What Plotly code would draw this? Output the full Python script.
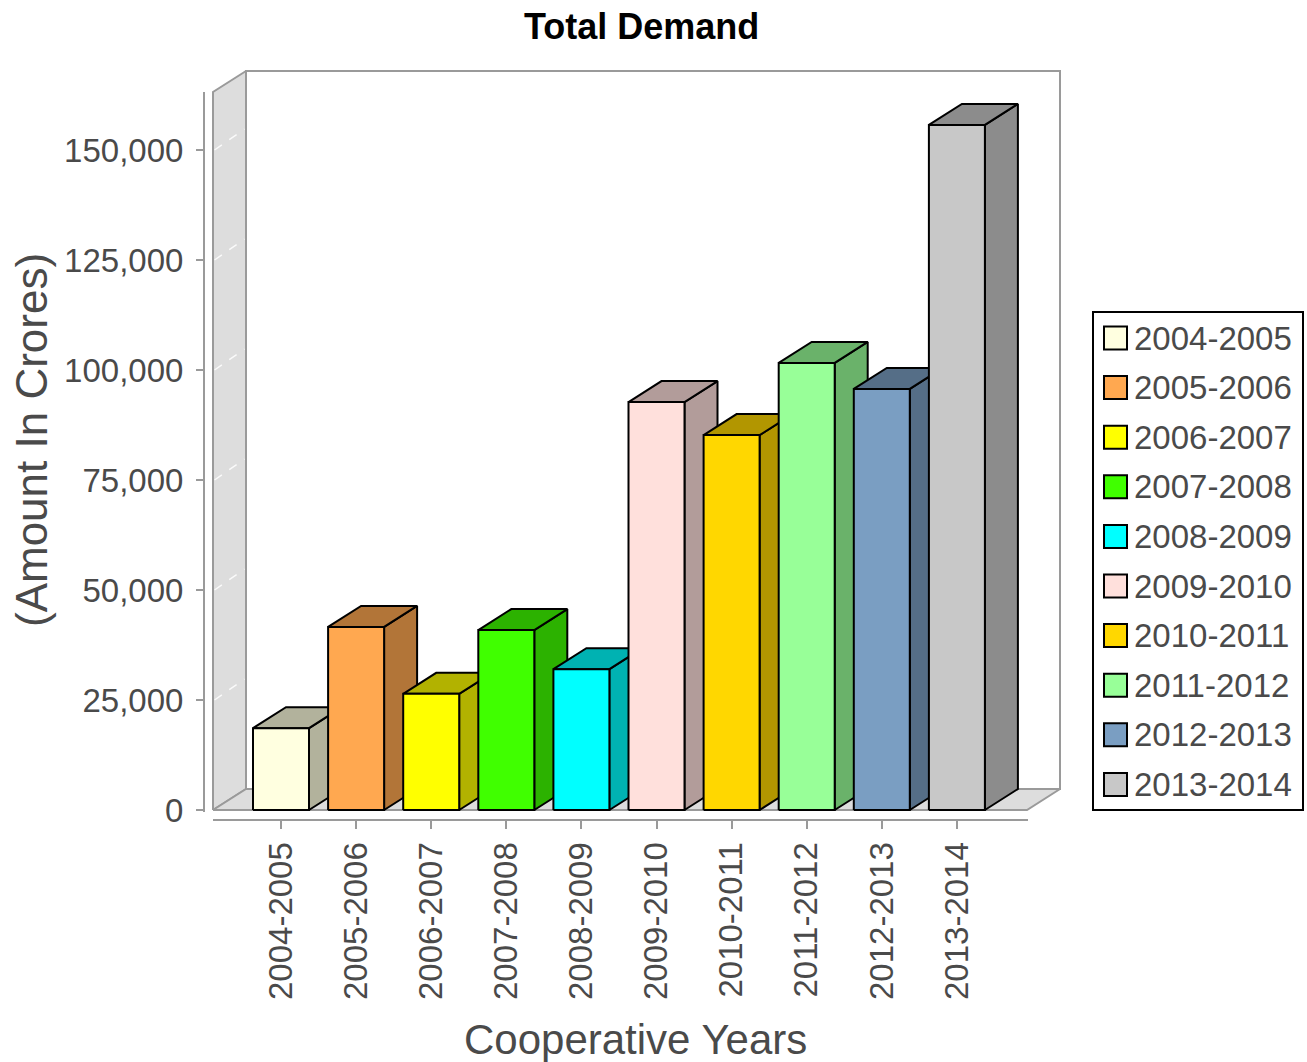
import plotly.graph_objects as go

# ---------------- data ----------------
categories = ["2004-2005", "2005-2006", "2006-2007", "2007-2008", "2008-2009",
              "2009-2010", "2010-2011", "2011-2012", "2012-2013", "2013-2014"]
values = [18600, 41600, 26400, 40900, 32000, 92700, 85200, 101600, 95700, 155700]
front_colors = ["#FFFFE0", "#FFA850", "#FFFF00", "#40FF00", "#00FFFF",
                "#FFE0DC", "#FFD700", "#98FF98", "#7A9EC2", "#C8C8C8"]
y_tick_vals = [0, 25000, 50000, 75000, 100000, 125000, 150000]

title_text = "Total Demand"
x_title = "Cooperative Years"
y_title = "(Amount In Crores)"

# ---------------- geometry / style ----------------
W, H = 1307, 1062
FONT = "Liberation Sans"
CAT0_PX = 281.0      # pixel x of first category centre
STEP_PX = 75.1       # pixel distance between categories
BASE_PX = 810.0      # pixel y of value 0 (front)
PX_PER_UNIT = 0.0044 # pixels per value unit
DX_PX, DY_PX = 33.0, 21.0   # 3D depth offset
BAR_W = 56.0 / STEP_PX
BOX_L_PX, BOX_R_PX, BOX_T_PX = 213.0, 1060.0, 71.0
DOM_X_PX = (200.0, 1075.0)
DOM_Y_PX = (60.0, 818.0)   # top, bottom


def pxx(p):
    return p / W


def pxy(p):
    return 1 - p / H


def darker(hx, f=0.7):
    hx = hx.lstrip("#")
    r, g, b = (int(hx[i:i + 2], 16) for i in (0, 2, 4))
    return "rgb(%d,%d,%d)" % (int(r * f), int(g * f), int(b * f))


def px_to_x(p):
    return (p - CAT0_PX) / STEP_PX


def px_to_y(p):
    return (BASE_PX - p) / PX_PER_UNIT


dx = DX_PX / STEP_PX
dy = DY_PX / PX_PER_UNIT
xL = px_to_x(BOX_L_PX)
xR = px_to_x(BOX_R_PX) - dx
yT = px_to_y(BOX_T_PX) - dy

fig = go.Figure()


def poly(xs, ys, fill, line_color, lw):
    fig.add_trace(go.Scatter(
        x=list(xs) + [xs[0]], y=list(ys) + [ys[0]], mode="lines",
        fill="toself", fillcolor=fill,
        line=dict(color=line_color, width=lw),
        hoverinfo="skip", showlegend=False))


BOX_LINE = "#9a9a9a"
WALL = "#dddddd"
# back wall
poly([xL + dx, xR + dx, xR + dx, xL + dx], [dy, dy, yT + dy, yT + dy], "white", BOX_LINE, 2)
# left wall
poly([xL, xL + dx, xL + dx, xL], [0, dy, yT + dy, yT], WALL, BOX_LINE, 2)
# floor
poly([xL, xR, xR + dx, xL + dx], [0, 0, dy, dy], WALL, BOX_LINE, 2)

# faint gridlines on the left wall
for tv in y_tick_vals[1:]:
    fig.add_trace(go.Scatter(
        x=[xL + 0.02, xL + dx - 0.02], y=[tv, tv + dy], mode="lines",
        line=dict(color="rgba(255,255,255,0.85)", width=1.5, dash="dash"),
        hoverinfo="skip", showlegend=False))

# bars
for i, (v, c) in enumerate(zip(values, front_colors)):
    x0, x1 = i - BAR_W / 2, i + BAR_W / 2
    dc = darker(c)
    # side face
    poly([x1, x1 + dx, x1 + dx, x1], [0, dy, v + dy, v], dc, "black", 2)
    # top face
    poly([x0, x0 + dx, x1 + dx, x1], [v, v + dy, v + dy, v], dc, "black", 2)
    # front face
    poly([x0, x1, x1, x0], [0, 0, v, v], c, "black", 2)

TICK_FONT = dict(family=FONT, size=33, color="#4a4a4a")

fig.update_layout(
    width=W, height=H,
    margin=dict(l=0, r=0, t=0, b=0, pad=0, autoexpand=False),
    paper_bgcolor="white", plot_bgcolor="white",
    showlegend=False,
    xaxis=dict(
        domain=[pxx(DOM_X_PX[0]), pxx(DOM_X_PX[1])],
        range=[px_to_x(DOM_X_PX[0]), px_to_x(DOM_X_PX[1])],
        tickmode="array", tickvals=list(range(len(categories))), ticktext=categories,
        tickangle=-90, ticks="outside", ticklen=8, tickwidth=2, tickcolor="#9a9a9a",
        tickfont=TICK_FONT, showgrid=False, zeroline=False, showline=False,
        anchor="free", position=pxy(820.0), fixedrange=True, automargin=False,
    ),
    yaxis=dict(
        domain=[pxy(DOM_Y_PX[1]), pxy(DOM_Y_PX[0])],
        range=[px_to_y(DOM_Y_PX[1]), px_to_y(DOM_Y_PX[0])],
        tickmode="array", tickvals=y_tick_vals, tickformat=",",
        ticks="outside", ticklen=8, tickwidth=2, tickcolor="#9a9a9a",
        ticklabelstandoff=6,
        tickfont=TICK_FONT, showgrid=False, zeroline=False, showline=False,
        anchor="free", position=pxx(204.0), fixedrange=True, automargin=False,
    ),
)

shapes = [
    # x axis line
    dict(type="line", xref="paper", yref="paper", x0=pxx(213.0), x1=pxx(1028.0),
         y0=pxy(820.0), y1=pxy(820.0), line=dict(color="#9a9a9a", width=2)),
    # y axis line
    dict(type="line", xref="paper", yref="paper", x0=pxx(204.0), x1=pxx(204.0),
         y0=pxy(92.0), y1=pxy(812.0), line=dict(color="#9a9a9a", width=2)),
    # legend frame
    dict(type="rect", xref="paper", yref="paper", x0=pxx(1093.0), x1=pxx(1303.0),
         y0=pxy(810.0), y1=pxy(312.0), line=dict(color="black", width=2),
         fillcolor="white"),
]
annotations = [
    dict(text="<b>" + title_text + "</b>", x=pxx(641.0), y=pxy(26.0), xref="paper", yref="paper",
         showarrow=False, xanchor="center", yanchor="middle",
         font=dict(family=FONT, size=36, color="black")),
    dict(text=x_title, x=pxx(635.0), y=pxy(1039.0), xref="paper", yref="paper",
         showarrow=False, xanchor="center", yanchor="middle",
         font=dict(family=FONT, size=42, color="#4a4a4a")),
    dict(text=y_title, x=pxx(31.0), y=pxy(440.0), xref="paper", yref="paper",
         showarrow=False, xanchor="center", yanchor="middle", textangle=-90,
         font=dict(family=FONT, size=44, color="#4a4a4a")),
]

ROW0, ROW_STEP = 338.0, 49.6
for i, (cat, c) in enumerate(zip(categories, front_colors)):
    cy = ROW0 + ROW_STEP * i
    shapes.append(dict(type="rect", xref="paper", yref="paper",
                       x0=pxx(1104.0), x1=pxx(1127.0),
                       y0=pxy(cy + 11.5), y1=pxy(cy - 11.5),
                       line=dict(color="black", width=2), fillcolor=c))
    annotations.append(dict(text=cat, x=pxx(1132.0), y=pxy(cy), xref="paper", yref="paper",
                            showarrow=False, xanchor="left", yanchor="middle",
                            font=dict(family=FONT, size=33, color="#4a4a4a")))

fig.update_layout(shapes=shapes, annotations=annotations)
fig.write_html("out.html",
               config={"displayModeBar": False},
               post_script="document.body.style.margin='0';"
                           "document.body.style.overflow='hidden';")
